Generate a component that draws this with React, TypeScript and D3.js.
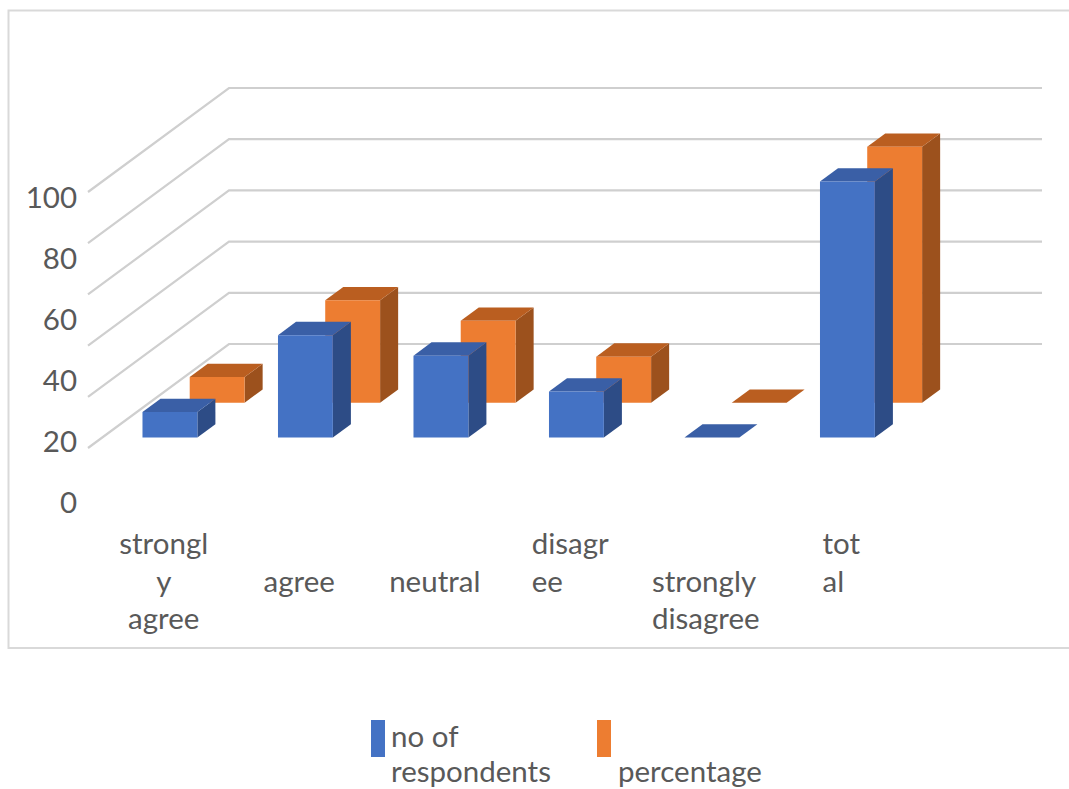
import React, { useEffect, useRef } from "react";
import * as d3 from "d3";

const width = 1069;
const height = 789;

// ---- data ----
const categories = ["strongly agree", "agree", "neutral", "disagree", "strongly disagree", "total"];
const categoryLines = [["strongl", "y", "agree"], ["agree"], ["neutral"], ["disagr", "ee"], ["strongly", "disagree"], ["tot", "al"]];
const categoryRow = [0, 1, 1, 0, 1, 0];
const categoryAlign = ["middle", "middle", "middle", "start", "start", "start"];
const seriesNames = ["no of respondents", "percentage"];
const legendLines = [["no of", "respondents"], ["", "percentage"]];
const respondents = [10, 40, 32, 18, 0, 100];
const percentage = [10, 40, 32, 18, 0, 100];
const yTicks = [0, 20, 40, 60, 80, 100];

const faces = [
  { front: "#4472C4", top: "#3A5FA6", side: "#2D4C86" },
  { front: "#ED7D31", top: "#BA5E20", side: "#9C511D" },
];

const font = "Lato, 'Open Sans', sans-serif";
const fontSize = 29.5;
const textColor = "#595959";
const depthVec = { x: 141, y: -104 };

export default function App() {
  const ref = useRef<SVGSVGElement>(null);

  useEffect(() => {
    const svg = d3.select(ref.current);
    svg.selectAll("*").remove();

    // ------- scales -------
    const x = d3.scaleBand<string>().domain(categories).range([88, 901])
      .paddingInner(0.595).paddingOuter(0.2975);
    const y = d3.scaleLinear().domain([0, 100]).range([448, 192]);
    const depth = d3.scaleBand<string>().domain(seriesNames).range([0, 0.664])
      .paddingInner(0.618).paddingOuter(0.3);
    const labelY = d3.scaleLinear().domain([0, 100]).range([513, 208]);
    const rowY = d3.scaleLinear().domain([0, 2]).range([554, 629]);

    const proj = (px: number, v: number, t: number): [number, number] =>
      [px + depthVec.x * t, y(v) + depthVec.y * t];
    const poly = (pts: [number, number][]) => d3.line()(pts) + "Z";

    // ------- frame -------
    svg.append("rect")
      .attr("x", 8.5).attr("y", 10.5)
      .attr("width", 1080).attr("height", 637.5)
      .attr("fill", "none").attr("stroke", "#D9D9D9").attr("stroke-width", 2);

    // ------- gridlines -------
    const [r0, r1] = x.range();
    svg.append("g").selectAll("path")
      .data(yTicks)
      .join("path")
        .attr("fill", "none")
        .attr("stroke", "#CFCFCF")
        .attr("stroke-width", 2.2)
        .attr("d", d => d3.line()([proj(r0, d, 0), proj(r0, d, 1), proj(r1, d, 1)]));

    // ------- y labels -------
    svg.append("g").selectAll("text")
      .data(yTicks)
      .join("text")
        .attr("x", 77)
        .attr("y", d => labelY(d))
        .attr("text-anchor", "end")
        .attr("font-family", font)
        .attr("font-size", fontSize)
        .attr("fill", textColor)
        .text(d => d);

    // ------- bars (back row first) -------
    const values = [respondents, percentage];
    const bars = svg.append("g");
    for (let s = seriesNames.length - 1; s >= 0; s--) {
      const t0 = depth(seriesNames[s])!;
      const t1 = t0 + depth.bandwidth();
      const c = faces[s];
      categories.forEach((cat, i) => {
        const v = values[s][i];
        const x0 = x(cat)!;
        const x1 = x0 + x.bandwidth();
        const g = bars.append("g");
        g.append("path")
          .attr("d", poly([proj(x1, 0, t0), proj(x1, 0, t1), proj(x1, v, t1), proj(x1, v, t0)]))
          .attr("fill", c.side);
        g.append("path")
          .attr("d", poly([proj(x0, v, t0), proj(x1, v, t0), proj(x1, v, t1), proj(x0, v, t1)]))
          .attr("fill", c.top);
        if (v > 0) {
          g.append("path")
            .attr("d", poly([proj(x0, 0, t0), proj(x1, 0, t0), proj(x1, v, t0), proj(x0, v, t0)]))
            .attr("fill", c.front);
        }
      });
    }

    // ------- category labels -------
    const cg = svg.append("g");
    categories.forEach((cat, i) => {
      const cx = x(cat)! + x.bandwidth() / 2 + 8;
      const texts = categoryLines[i].map((line, j) =>
        cg.append("text")
          .attr("y", rowY(categoryRow[i] + j))
          .attr("font-family", font)
          .attr("font-size", fontSize)
          .attr("fill", textColor)
          .text(line));
      if (categoryAlign[i] === "middle") {
        texts.forEach(t => t.attr("x", cx).attr("text-anchor", "middle"));
      } else {
        const w = d3.max(texts, t => (t.node() as SVGTextElement).getComputedTextLength()) || 0;
        texts.forEach(t => t.attr("x", cx - w / 2).attr("text-anchor", "start"));
      }
    });

    // ------- legend -------
    const lg = svg.append("g");
    seriesNames.forEach((name, i) => {
      const lx = 371 + i * 226;
      lg.append("rect")
        .attr("x", lx).attr("y", 720)
        .attr("width", 14).attr("height", 37)
        .attr("fill", faces[i].front);
      legendLines[i].forEach((line, j) => {
        lg.append("text")
          .attr("x", lx + 20 + i)
          .attr("y", 747 + j * 35)
          .attr("font-family", font)
          .attr("font-size", fontSize)
          .attr("fill", textColor)
          .text(line);
      });
    });
  }, []);

  return (
    <svg ref={ref} width={width} height={height}
      style={{ position: "absolute", left: 0, top: 0, background: "#fff" }} />
  );
}
